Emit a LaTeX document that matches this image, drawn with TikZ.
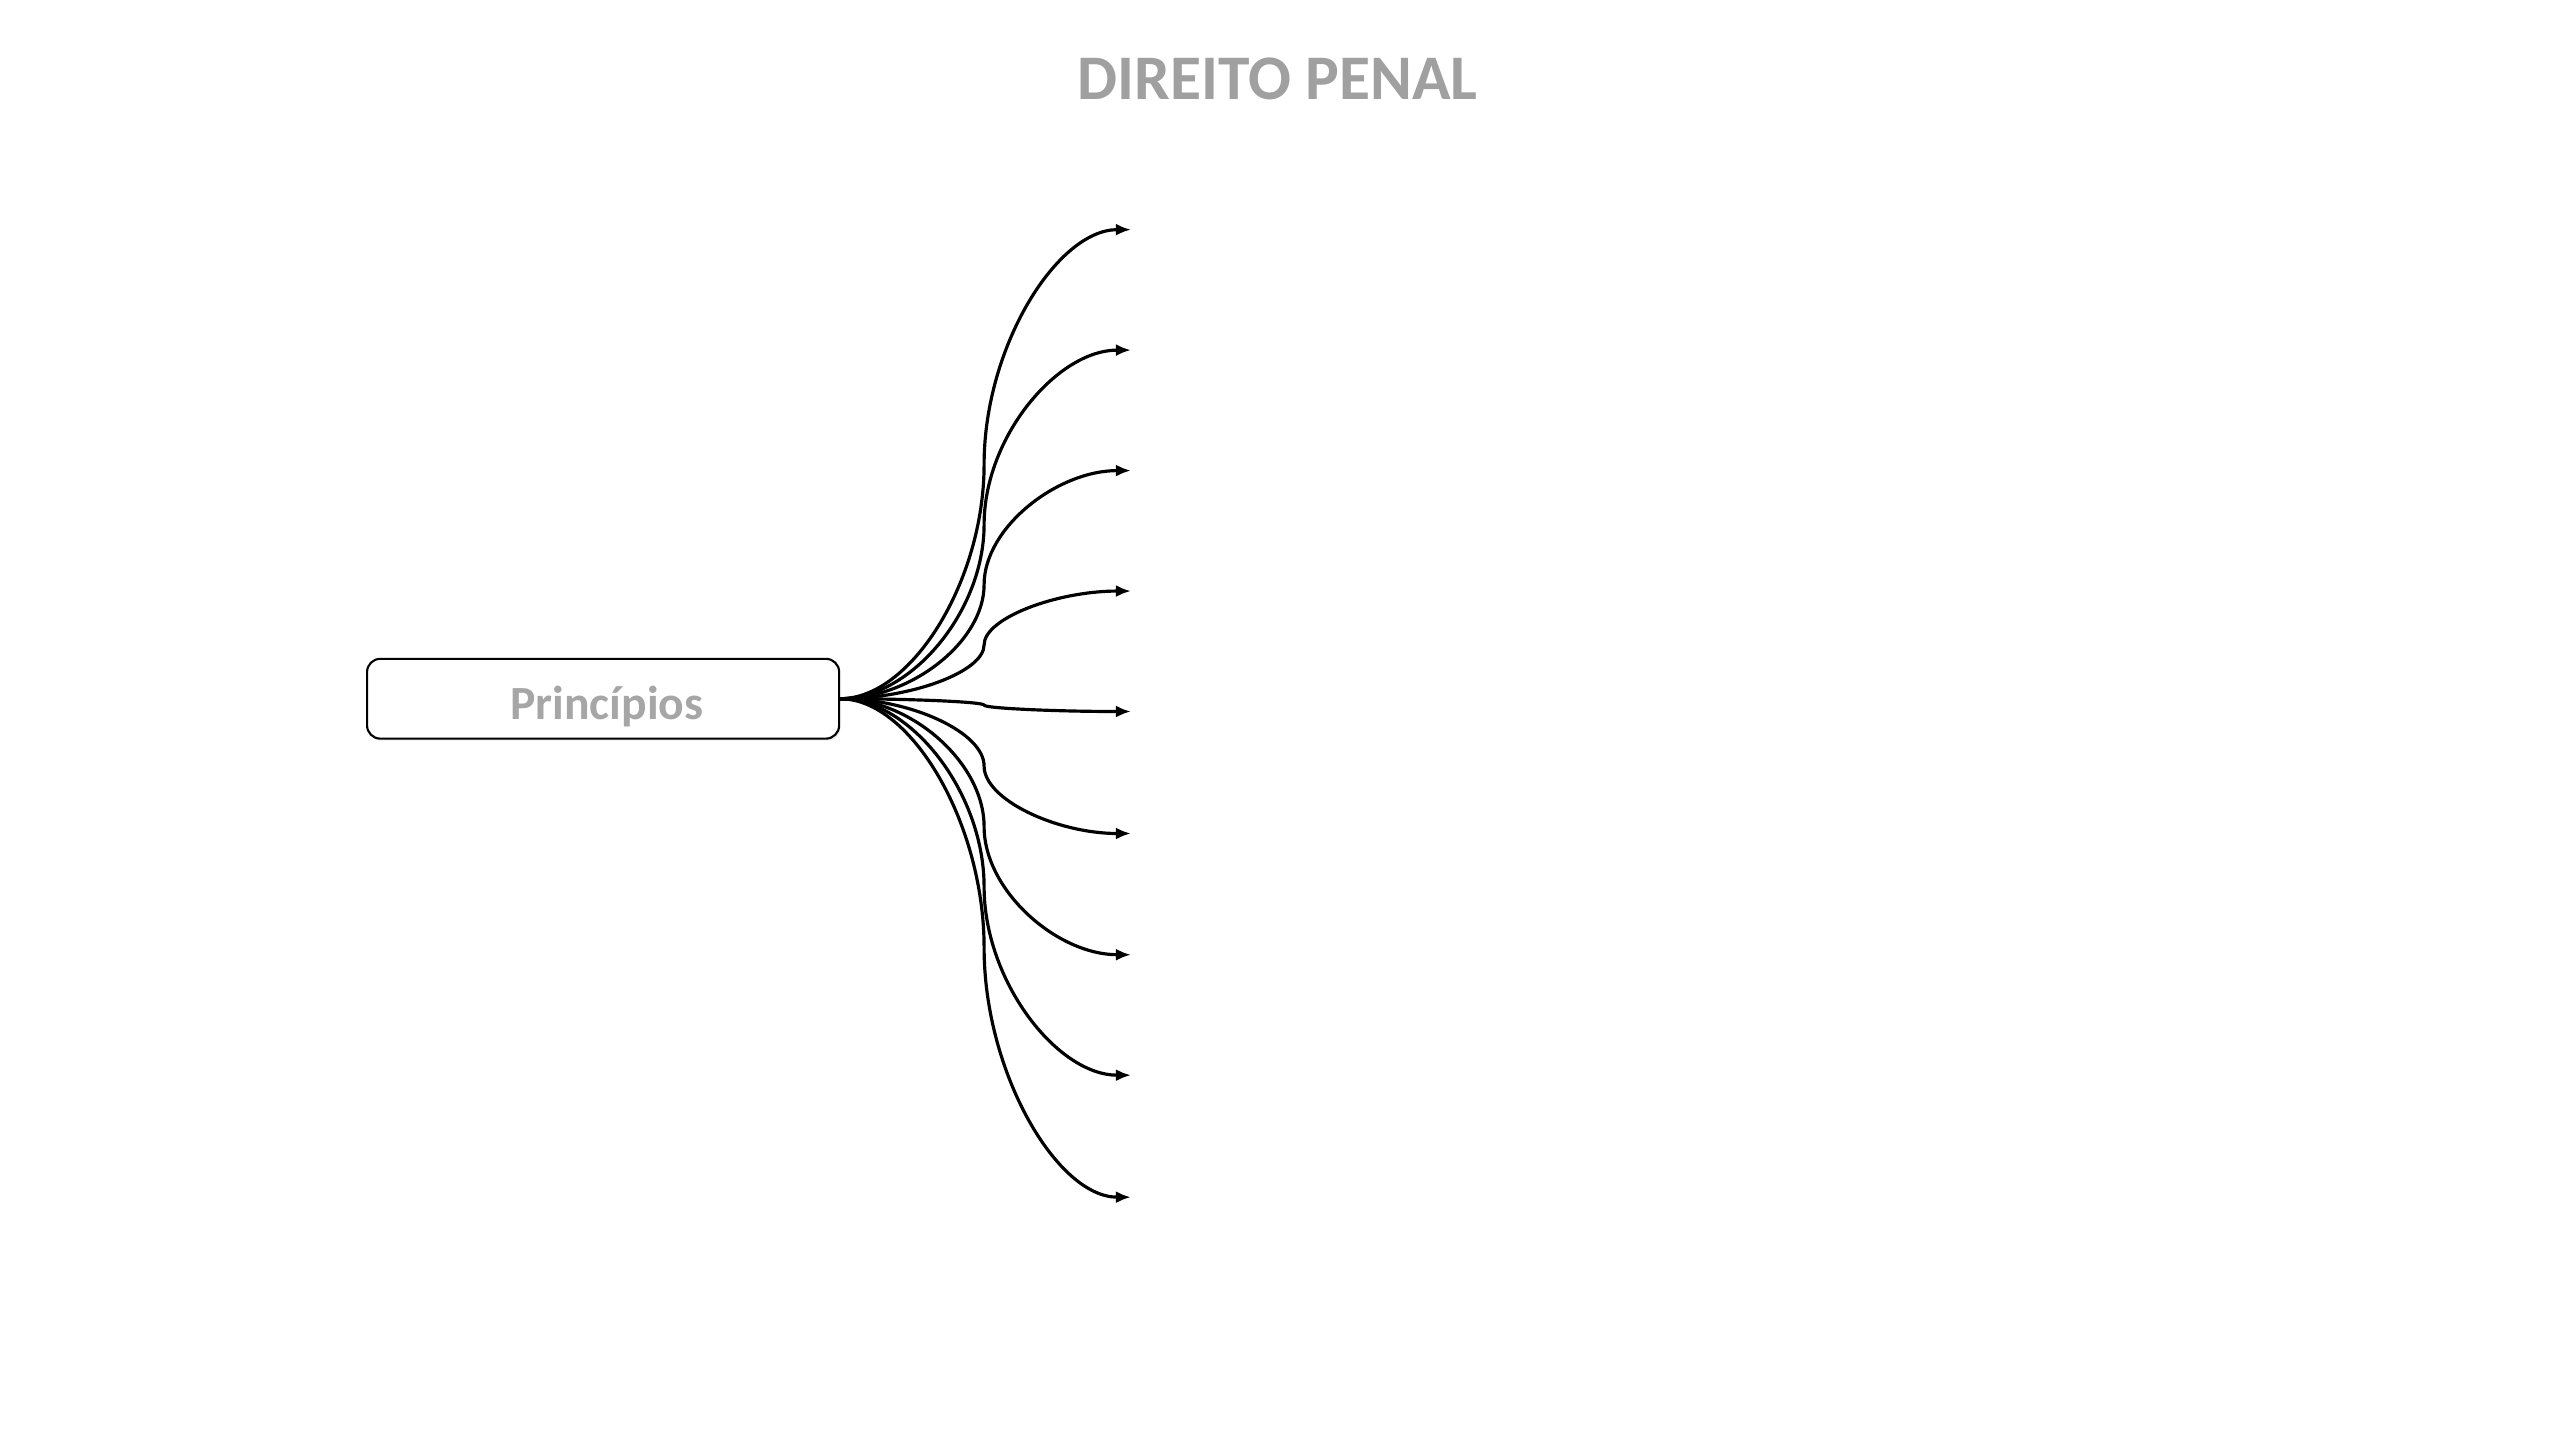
\documentclass[tikz,border=0pt]{standalone}
\usepackage{fontspec}
\setmainfont{Carlito}
\usetikzlibrary{arrows.meta, positioning, calc, shadows}
\definecolor{titlegray}{RGB}{160, 160, 160}
\definecolor{labelgray}{RGB}{166, 166, 166}

\begin{document}
\begin{tikzpicture}[
  pbox/.style={draw, rounded corners=5pt, line width=0.8pt, fill=white, minimum width=6.27cm, minimum height=1.06cm, text height=0.6cm, text depth=0.05cm, font=\bfseries\fontsize{18}{21}\selectfont, text=labelgray, drop shadow={opacity=0.15, shadow xshift=0.5pt, shadow yshift=-0.8pt}},
  branch/.style={line width=1.2pt, -{Latex[length=2mm, width=1.6mm]}}
]
  \useasboundingbox (0, 0) rectangle (33.867, 19.05);
  \node[font=\bfseries\fontsize{24}{29}\selectfont, text=titlegray] (titulo) at (16.97, 18.0) {DIREITO PENAL};
  \node[pbox] (principios) at (8.01, 9.77) {\hspace*{0.1cm}Princípios};
  % ramos
  \foreach \i/\y in {1/16.0, 2/14.4, 3/12.8, 4/11.2, 5/9.6, 6/7.98, 7/6.37, 8/4.77, 9/3.15} {
    \coordinate (ramo\i) at (15.02, \y);
    \pgfmathsetmacro{\ya}{9.77 + (\y - 9.77)/4}
    \pgfmathsetmacro{\yb}{9.77 + (\y - 9.77)/2}
    \pgfmathsetmacro{\yc}{9.77 + 3*(\y - 9.77)/4}
    \draw[branch] (principios.east) .. controls (12.1, 9.77) and (13.07, \ya) .. (13.07, \yb)
      .. controls (13.07, \yc) and (14.04, \y) .. (ramo\i);
  }
\end{tikzpicture}
\end{document}
